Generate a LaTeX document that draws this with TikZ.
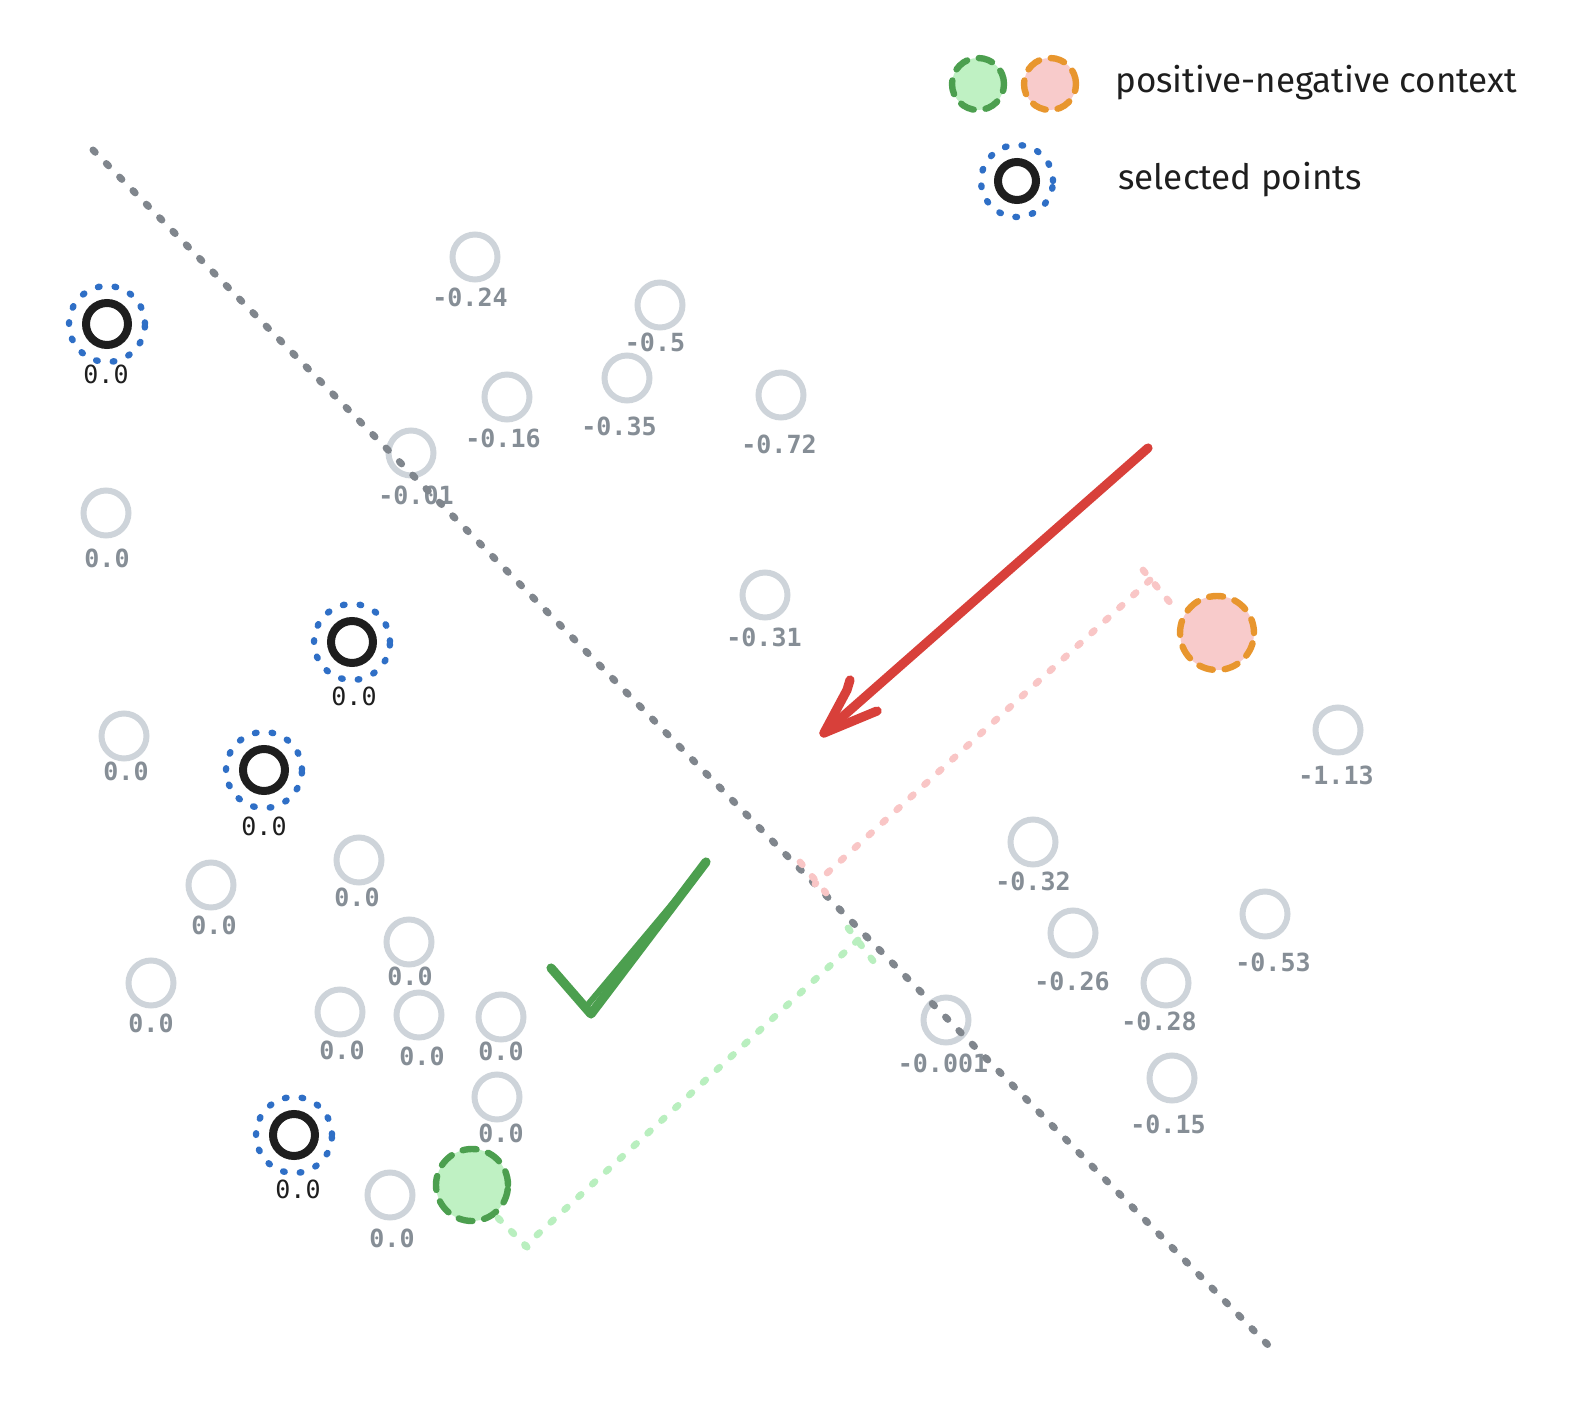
\documentclass[tikz,border=0pt]{standalone}
\usepackage{fontspec}
\newfontfamily\monof{DejaVu Sans Mono}
\newfontfamily\handf{Fira Sans}
\definecolor{cgray}{HTML}{CED4DA}
\definecolor{clab}{HTML}{868E96}
\definecolor{cblack}{HTML}{1E1E1E}
\definecolor{cblue}{HTML}{2F6FC6}
\definecolor{cred}{HTML}{D8403A}
\definecolor{cgreen}{HTML}{4C9F4F}
\definecolor{gfill}{HTML}{BFF1C3}
\definecolor{pfill}{HTML}{F8CBCB}
\definecolor{corange}{HTML}{E8962E}
\definecolor{cline}{HTML}{80868D}
\definecolor{pdot}{HTML}{F9C6C6}
\definecolor{gdot}{HTML}{B9EFBF}
\begin{document}
\begin{tikzpicture}[x=0.5pt,y=-0.5pt,
  gpt/.style={circle, draw=cgray, line width=3pt, minimum size=22.5pt, inner sep=0pt},
  glab/.style={font=\monof\bfseries\fontsize{12.5}{14}\selectfont, text=clab, inner sep=0pt},
  blab/.style={font=\monof\fontsize{12.5}{14}\selectfont, text=cblack, inner sep=0pt},
  selin/.style={circle, draw=cblack, line width=4pt, minimum size=21pt, inner sep=0pt},
  selout/.style={circle, draw=cblue, line width=3.2pt, dash pattern=on 0.8pt off 7.6pt, line cap=round, minimum size=38pt, inner sep=0pt},
  gctx/.style={circle, fill=gfill, draw=cgreen, line width=3.2pt, dash pattern=on 7pt off 6pt, line cap=round, inner sep=0pt},
  pctx/.style={circle, fill=pfill, draw=corange, line width=3.2pt, dash pattern=on 7pt off 6pt, line cap=round, inner sep=0pt},
  sepline/.style={draw=cline, line width=3.5pt, dash pattern=on 1.6pt off 7.9pt, line cap=round},
  pline/.style={draw=pdot, line width=3.4pt, dash pattern=on 1.8pt off 7.6pt, line cap=round},
  gline/.style={draw=gdot, line width=3.4pt, dash pattern=on 1.8pt off 7.6pt, line cap=round},
  legtext/.style={font=\handf\fontsize{17.5}{20}\selectfont, text=cblack, inner sep=0pt, anchor=base west}
]
\useasboundingbox (0,0) rectangle (1570,1428);

% separating line
\coordinate (s1) at (93,150);
\coordinate (s2) at (1270,1347);

% gray points
\node[gpt] (p1) at (475,257) {}; \node[glab] (l1) at (470,297) {-0.24};
\node[gpt] (p2) at (660,305) {}; \node[glab] (l2) at (655,342) {-0.5};
\node[gpt] (p3) at (507,397) {}; \node[glab] (l3) at (503,438) {-0.16};
\node[gpt] (p4) at (627,378) {}; \node[glab] (l4) at (619,426) {-0.35};
\node[gpt] (p5) at (781,395) {}; \node[glab] (l5) at (779,444) {-0.72};
\node[gpt] (p6) at (411,453) {}; \node[glab] (l6) at (416,495) {-0.01};
\node[gpt] (p7) at (106,513) {}; \node[glab] (l7) at (107,558) {0.0};
\node[gpt] (p8) at (765,595) {}; \node[glab] (l8) at (764,637) {-0.31};
\node[gpt] (p9) at (1338,730) {}; \node[glab] (l9) at (1336,775) {-1.13};
\node[gpt] (p10) at (124,736) {}; \node[glab] (l10) at (126,771) {0.0};
\node[gpt] (p11) at (1033,842) {}; \node[glab] (l11) at (1033,881) {-0.32};
\node[gpt] (p12) at (359,860) {}; \node[glab] (l12) at (357,897) {0.0};
\node[gpt] (p13) at (211,885) {}; \node[glab] (l13) at (214,925) {0.0};
\node[gpt] (p14) at (1073,933) {}; \node[glab] (l14) at (1072,981) {-0.26};
\node[gpt] (p15) at (1265,914) {}; \node[glab] (l15) at (1273,962) {-0.53};
\node[gpt] (p16) at (409,942) {}; \node[glab] (l16) at (410,976) {0.0};
\node[gpt] (p17) at (151,983) {}; \node[glab] (l17) at (151,1023) {0.0};
\node[gpt] (p18) at (1166,983) {}; \node[glab] (l18) at (1159,1021) {-0.28};
\node[gpt] (p19) at (340,1012) {}; \node[glab] (l19) at (342,1050) {0.0};
\node[gpt] (p20) at (419,1015) {}; \node[glab] (l20) at (422,1056) {0.0};
\node[gpt] (p21) at (501,1017) {}; \node[glab] (l21) at (501,1051) {0.0};
\node[gpt] (p22) at (946,1020) {}; \node[glab] (l22) at (943,1063) {-0.001};
\node[gpt] (p23) at (497,1097) {}; \node[glab] (l23) at (501,1133) {0.0};
\node[gpt] (p24) at (1172,1078) {}; \node[glab] (l24) at (1168,1124) {-0.15};
\node[gpt] (p25) at (390,1195) {}; \node[glab] (l25) at (392,1238) {0.0};

% separating dotted line (on top of the circles it crosses)
\draw[sepline] (s1) -- (s2);

% selected points
\node[selout] (so1) at (107,324) {}; \node[selin] (si1) at (107,324) {}; \node[blab] (bl1) at (106,374) {0.0};
\node[selout] (so2) at (352,642) {}; \node[selin] (si2) at (352,642) {}; \node[blab] (bl2) at (354,696) {0.0};
\node[selout] (so3) at (264,770) {}; \node[selin] (si3) at (264,770) {}; \node[blab] (bl3) at (264,826) {0.0};
\node[selout] (so4) at (294,1135) {}; \node[selin] (si4) at (294,1135) {}; \node[blab] (bl4) at (298,1189) {0.0};

% context points
\node[gctx, minimum size=36pt] (gc) at (472,1185) {};
\node[pctx, minimum size=37pt] (pc) at (1217,633) {};

% distance lines
\coordinate (pa1) at (1143,570); \coordinate (pa2) at (1172,605);
\coordinate (pm1) at (1150,580); \coordinate (pm2) at (815,884);
\coordinate (pb1) at (800,862); \coordinate (pb2) at (826,893);
\draw[pline] (pa1) -- (pa2);
\draw[pline] (pm1) -- (pm2);
\draw[pline] (pb1) -- (pb2);
\coordinate (ga1) at (848,928); \coordinate (ga2) at (874,962);
\coordinate (gm1) at (858,940); \coordinate (gm2) at (525,1246);
\coordinate (gb1) at (498,1218); \coordinate (gb2) at (530,1250);
\draw[gline] (ga1) -- (ga2);
\draw[gline] (gm1) -- (gm2);
\draw[gline] (gb1) -- (gb2);

% red arrow
\coordinate (ra) at (1148,448);
\coordinate (rt) at (824,733);
\coordinate (rb1) at (850,680);
\coordinate (rb2) at (877,711);
\draw[cred, line width=4.6pt, line cap=round, line join=round] (ra) -- (rt);
\draw[cred, line width=4.6pt, line cap=round, line join=round] (rb1) -- (847,690) -- (rt) -- (rb2);

% green check
\coordinate (c1) at (551,968);
\coordinate (c2) at (591,1014);
\coordinate (c3) at (706,862);
\draw[cgreen, line width=4.6pt, line cap=round, line join=round] (c1) -- (c2) -- (c3);
\draw[cgreen, line width=3pt, line cap=round] (585,1008) -- (704,866);

% legend
\node[gctx, minimum size=26pt] (lg) at (978,84) {};
\node[pctx, minimum size=26pt] (lp) at (1050,84) {};
\node[legtext] (lt1) at (1115,93) {positive-negative context};
\node[selout, minimum size=36pt] (lso) at (1017,181) {};
\node[selin, minimum size=19pt] (lsi) at (1017,181) {};
\node[legtext] (lt2) at (1118,190) {selected points};
\end{tikzpicture}
\end{document}
